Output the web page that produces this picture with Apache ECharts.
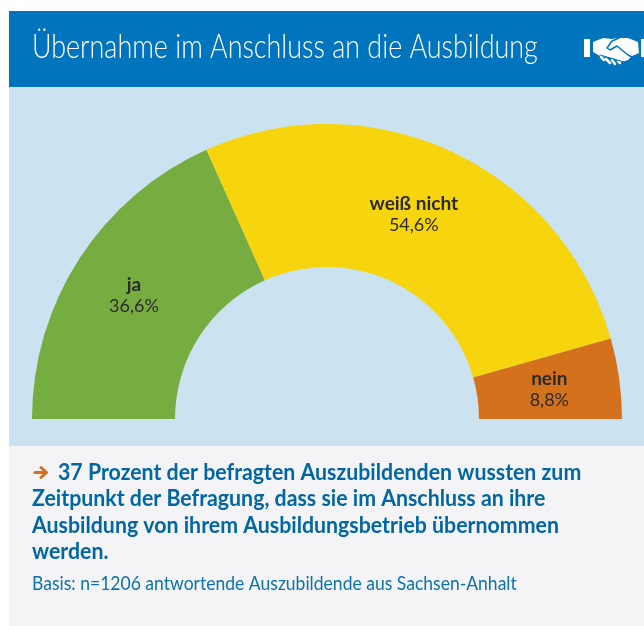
<!DOCTYPE html>
<html><head><meta charset="utf-8">
<style>html,body{margin:0;padding:0;background:#fff}#c{width:644px;height:626px}</style>
<script src="https://cdn.jsdelivr.net/npm/echarts@6/dist/echarts.min.js"></script>
</head><body><div id="c"></div>
<script>
const titleText = 'Übernahme im Anschluss an die Ausbildung';
const categories = ['ja', 'weiß nicht', 'nein'];
const values = [36.6, 54.6, 8.8];
const valueLabels = ['36,6%', '54,6%', '8,8%'];
const colors = ['#77AD40', '#F6D50F', '#D4711C'];
const labelShift = [[-3, 0], [-9, 1], [-2, 2]];
const headlineLines = [
  '37 Prozent der befragten Auszubildenden wussten zum',
  'Zeitpunkt der Befragung, dass sie im Anschluss an ihre',
  'Ausbildung von ihrem Ausbildungsbetrieb übernommen',
  'werden.'
];
const basisText = 'Basis: n=1206 antwortende Auszubildende aus Sachsen-Anhalt';
const FONT = 'Lato';

const chart = echarts.init(document.getElementById('c'), null, {renderer:'canvas'});
const rect = (x,y,w,h,fill,z)=>({type:'rect',z:z||-10,silent:true,shape:{x,y,width:w,height:h},style:{fill}});
const text = (x,y,t,size,weight,fill,sx)=>({type:'text',x,y,scaleX:sx||1,silent:true,z:5,
  style:{text:t,fill,font:`${weight} ${size}px ${FONT}`,verticalAlign:'middle'}});
const poly = (points,fill)=>({type:'polygon',z:5,silent:true,shape:{points},style:{fill}});
const stroke = (points,color,w,z)=>({type:'polyline',z:z||6,silent:true,shape:{points},style:{stroke:color,lineWidth:w,fill:null,lineCap:'round',lineJoin:'round'}});
const startY = 472.5, lineH = 26.6, BLUE = '#0066A4', HEAD = '#0074BC';
const g = [
  rect(9,11,635,76,HEAD),
  rect(9,87,635,359,'#CBE2F1'),
  rect(9,446,635,180,'#F4F4F7'),
  text(32,47,titleText,33,300,'#FFFFFF',0.815),
  // handshake icon
  rect(584,39,6,18,'#FFFFFF',5),
  rect(641,39,3,18,'#FFFFFF',5),
  poly([[593,42],[603,38],[612,39],[617,38],[628,38],[638,42],[639,53],[632,56],[628,60],[622,62],[612,58],[600,56],[593,52]],'#FFFFFF'),
  stroke([[619,38],[612,41],[607,48],[610,50],[617,46],[628,55],[632,57]],HEAD,1.5),
  stroke([[601,57],[604,60]],'#FFFFFF',2.5),
  stroke([[606,59],[610,63]],'#FFFFFF',2.5),
  stroke([[612,60],[615,64]],'#FFFFFF',2.5),
  stroke([[618,61],[620,63]],'#FFFFFF',2.5),
  stroke([[600,55],[624,62]],HEAD,1),
  // arrow
  stroke([[35,472.5],[46,472.5]],'#D4711C',3),
  stroke([[41,467.5],[46.5,472.5],[41,477.5]],'#D4711C',3),
  text(58,startY,headlineLines[0],22,700,BLUE,0.969),
  text(32,startY+lineH,headlineLines[1],22,700,BLUE,0.969),
  text(32,startY+lineH*2,headlineLines[2],22,700,BLUE,0.969),
  text(32,startY+lineH*3,headlineLines[3],22,700,BLUE,0.969),
  text(32,584,basisText,20,400,'#0B72AE',0.877)
];
chart.setOption({
  animation:false,
  backgroundColor:'#fff',
  graphic:{elements:g},
  series:[{
    type:'pie',
    center:[327,419],
    radius:[152,295],
    startAngle:180,
    endAngle:0,
    clockwise:true,
    silent:true,
    itemStyle:{borderWidth:0},
    label:{position:'inside',show:true,lineHeight:21,
      formatter:p=>`{n|${p.name}}\n{v|${valueLabels[p.dataIndex]}}`,
      rich:{
        n:{fontFamily:FONT,fontWeight:700,fontSize:19,color:'#2B2A29',lineHeight:21,align:'center'},
        v:{fontFamily:FONT,fontWeight:400,fontSize:18,color:'#2B2A29',lineHeight:21,align:'center'}
      }},
    labelLine:{show:false},
    labelLayout:p=>({dx:labelShift[p.dataIndex][0],dy:labelShift[p.dataIndex][1]}),
    data:categories.map((n,i)=>({name:n,value:values[i],itemStyle:{color:colors[i]}}))
  }]
});
</script></body></html>
